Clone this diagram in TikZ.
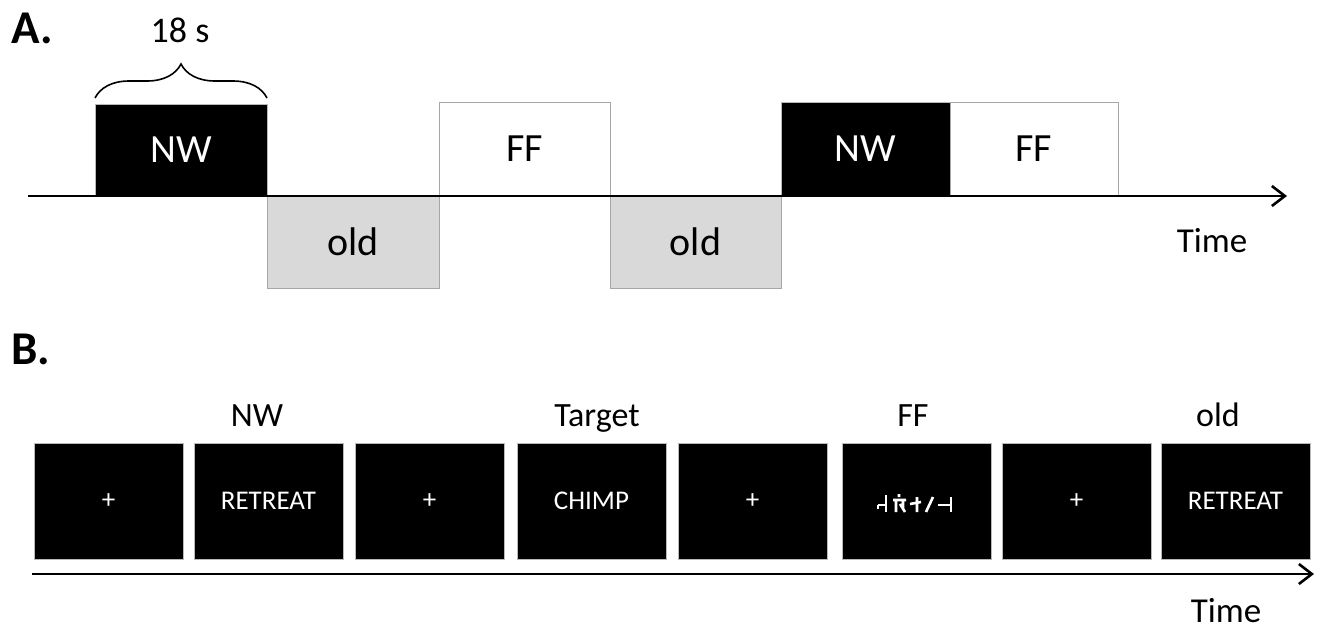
\documentclass[tikz,border=0pt]{standalone}
\usepackage{fontspec}
\setmainfont{Carlito}
\usetikzlibrary{arrows.meta,decorations.pathreplacing}
\begin{document}
\begin{tikzpicture}[x=1pt,y=-1pt,
  blk/.style={draw=gray!55,line width=1pt,fill=black,text=white,anchor=north west,inner sep=0pt,outer sep=0pt},
  wht/.style={draw=gray!70,line width=1pt,fill=white,anchor=north west,inner sep=0pt,outer sep=0pt},
  oldb/.style={draw=gray!70,line width=1pt,fill={rgb,255:red,217;green,217;blue,217},anchor=north west,inner sep=0pt,outer sep=0pt},
  abox/.style={font=\fontsize{40}{44}\selectfont},
  scr/.style={blk,minimum width=149pt,minimum height=116pt,font=\fontsize{27}{30}\selectfont},
  axis/.style={line width=2.8pt,-{Straight Barb[length=13pt,width=20pt,line width=2.6pt]}},
  lab/.style={font=\fontsize{34}{38}\selectfont,anchor=base},
  panel/.style={font=\fontsize{47}{50}\selectfont\bfseries,anchor=base west,inner sep=0pt},
  glyph/.style={draw=white,line width=2.6pt}
]
\useasboundingbox (0,0) rectangle (1323,637);
% ---------- Panel A ----------
\node[panel] (pA) at (11,43) {A.};
\node[blk,abox,minimum width=172pt,minimum height=92pt] (nw1) at (95,104) {NW};
\node[oldb,abox,minimum width=172pt,minimum height=92pt] (old1) at (267,196) {old};
\node[wht,abox,minimum width=171pt,minimum height=94pt] (ff1) at (439,102) {FF};
\node[oldb,abox,minimum width=171pt,minimum height=92pt] (old2) at (610,196) {old};
\node[blk,abox,minimum width=169pt,minimum height=94pt] (nw2) at (781,102) {NW};
\node[wht,abox,minimum width=168pt,minimum height=94pt] (ff2) at (950,102) {FF};
\coordinate (a0) at (28,196);
\coordinate (a1) at (1287,196);
\draw[axis] (a0) -- (a1);
\draw[line width=1.6pt,decorate,decoration={brace,amplitude=34pt,aspect=0.5}]
  ([yshift=6pt]nw1.north west) -- ([yshift=6pt]nw1.north east);
\node[font=\fontsize{36}{40}\selectfont,anchor=base] (dur) at (180,42) {18 s};
\node[lab,font=\fontsize{35}{40}\selectfont] (tA) at (1212,252) {Time};
% ---------- Panel B ----------
\node[panel] (pB) at (11,364) {B.};
\node[scr] (s1) at (34,443) {+};
\node[scr] (s2) at (194,443) {RETREAT};
\node[scr] (s3) at (355,443) {+};
\node[scr] (s4) at (517,443) {CHIMP};
\node[scr] (s5) at (678,443) {+};
\node[scr] (s6) at (842,443) {};
\node[scr] (s7) at (1002,443) {+};
\node[scr] (s8) at (1161,443) {RETREAT};
\node[lab] (lNW) at (257,426) {NW};
\node[lab] (lT) at (597,426) {Target};
\node[lab] (lFF) at (913,426) {FF};
\node[lab] (lold) at (1218,426) {old};
% false-font string
\draw[glyph] (878,505) -- (886,505) (886,495) -- (886,512) (878,505) -- (878,509);
\draw[glyph] (899,494) -- (899,497) (893,500) -- (906,500) (896,500) -- (896,512) (900,504) -- (905,512) (903,500) -- (903,508);
\draw[glyph] (910,504) -- (921,502) (917,497) -- (917,512);
\draw[glyph] (926,512) -- (933,497);
\draw[glyph] (951,497) -- (951,512) (938,505) -- (951,505);
\coordinate (b0) at (32,574);
\coordinate (b1) at (1314,574);
\draw[axis] (b0) -- (b1);
\node[lab,font=\fontsize{35}{40}\selectfont] (tB) at (1226,622) {Time};
\end{tikzpicture}
\end{document}
